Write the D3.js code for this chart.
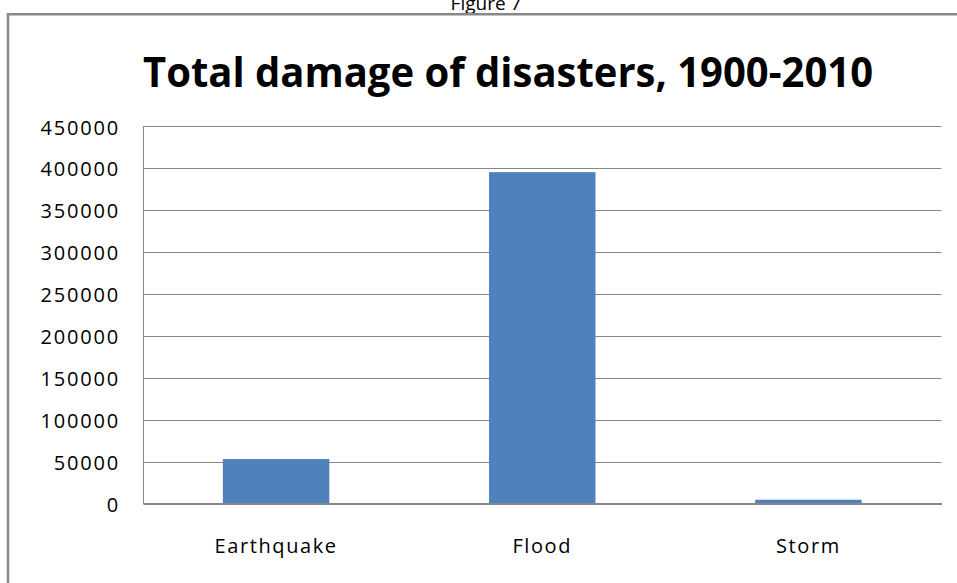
<!DOCTYPE html>
<html>
<head>
    <meta charset="UTF-8">
    <title>Total damage of disasters</title>
    <script src="https://d3js.org/d3.v7.min.js"></script>
    <style type="text/css">
        body { margin: 0; background: #fff; }
        svg { display: block; }
        text { font-family: "Open Sans", "DejaVu Sans", sans-serif; fill: #000; }
    </style>
</head>
<body>
<div id="graph"></div>
<script type="text/javascript">

    // data
    var categories = ["Earthquake", "Flood", "Storm"];
    var damage = [53000, 395000, 4500];
    var yTicks = [0, 50000, 100000, 150000, 200000, 250000, 300000, 350000, 400000, 450000];
    var title = "Total damage of disasters, 1900-2010";
    var caption = "Figure 7";

    var width = 957, height = 583;
    var plotLeft = 143, plotRight = 941.5, plotTop = 126, plotBottom = 503.5;

    var svg = d3.select("#graph").append("svg")
        .attr("width", width)
        .attr("height", height);

    svg.append("rect")
        .attr("width", width).attr("height", height)
        .attr("fill", "#fff");

    // caption, cut by the page top as in the source
    svg.append("text")
        .attr("x", 486).attr("y", 10)
        .attr("text-anchor", "middle")
        .attr("font-size", "19px")
        .text(caption);

    // outer frame (right and bottom edges fall outside the page)
    svg.append("path")
        .attr("d", "M8," + height + " V14.3 H" + width)
        .attr("fill", "none")
        .attr("stroke", "#888")
        .attr("stroke-width", 2.5);

    svg.append("text")
        .attr("x", 508).attr("y", 87)
        .attr("text-anchor", "middle")
        .attr("font-size", "41px")
        .attr("font-weight", "bold")
        .attr("textLength", 730)
        .attr("lengthAdjust", "spacingAndGlyphs")
        .text(title);

    var x = d3.scaleBand()
        .domain(categories)
        .range([plotLeft, plotRight])
        .paddingInner(0.6)
        .paddingOuter(0.3);

    var y = d3.scaleLinear()
        .domain([0, 450000])
        .range([plotBottom, plotTop]);

    // gridlines
    svg.append("g")
        .selectAll("line")
        .data(yTicks.filter(function (d) { return d > 0; }))
        .enter().append("line")
        .attr("x1", plotLeft).attr("x2", plotRight)
        .attr("y1", function (d) { return Math.round(y(d)) + 0.5; })
        .attr("y2", function (d) { return Math.round(y(d)) + 0.5; })
        .attr("stroke", "#878787")
        .attr("stroke-width", 1);

    // y axis labels
    var yAxis = d3.axisLeft(y)
        .tickValues(yTicks)
        .tickSize(0)
        .tickPadding(23)
        .tickFormat(function (d) { return String(d); });

    var ya = svg.append("g")
        .attr("transform", "translate(" + plotLeft + ",0)")
        .call(yAxis);
    ya.select(".domain").attr("stroke", "#878787").attr("stroke-width", 1);
    ya.selectAll("text")
        .attr("font-size", "20px")
        .attr("letter-spacing", "1.8px")
        .attr("fill", "#000")
        .attr("dy", "0.4em");

    // bars
    svg.append("g")
        .selectAll("rect")
        .data(damage)
        .enter().append("rect")
        .attr("x", function (d, i) { return x(categories[i]); })
        .attr("y", function (d) { return y(d); })
        .attr("width", x.bandwidth())
        .attr("height", function (d) { return y(0) - y(d); })
        .attr("fill", "#4f81bd");

    // x axis
    var xAxis = d3.axisBottom(x).tickSize(0).tickPadding(35);
    var xa = svg.append("g")
        .attr("transform", "translate(0," + plotBottom + ")")
        .call(xAxis);
    xa.select(".domain").attr("stroke", "#878787").attr("stroke-width", 2);
    xa.selectAll("text")
        .attr("font-size", "20px")
        .attr("letter-spacing", "1.6px")
        .attr("fill", "#000");

</script>
</body>
</html>
